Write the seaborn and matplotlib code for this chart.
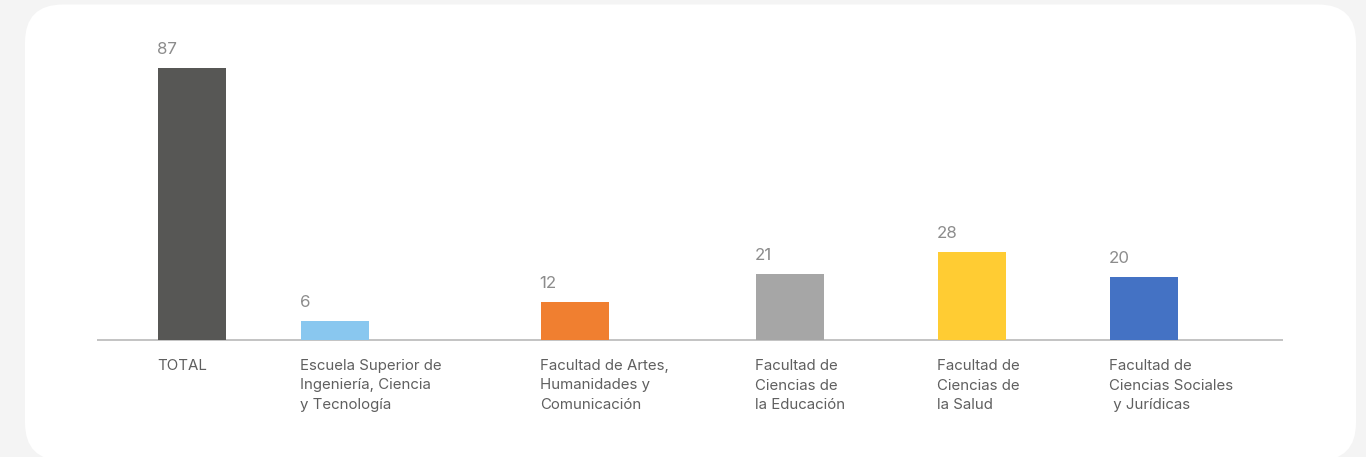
import numpy as np
import pandas as pd
import matplotlib
matplotlib.use("Agg")
import matplotlib.pyplot as plt
from matplotlib.patches import FancyBboxPatch
import seaborn as sns

# ---- data ----
categories = [
    "TOTAL",
    "Escuela Superior de\nIngeniería, Ciencia\ny Tecnología",
    "Facultad de Artes,\nHumanidades y\nComunicación",
    "Facultad de\nCiencias de\nla Educación",
    "Facultad de\nCiencias de\nla Salud",
    "Facultad de\nCiencias Sociales\n y Jurídicas",
]
values = [87, 6, 12, 21, 28, 20]
colors = ["#575755", "#89c7ef", "#f07f30", "#a6a6a6", "#ffcc33", "#4472c4"]

# ---- layout (pixel-based positions of bar centres) ----
positions = [192, 334.7, 574.7, 790, 971.7, 1144]
BAR_W = 68
W, H = 1366, 457

sns.set_theme(style="white")
plt.rcParams["font.family"] = ["Inter", "DejaVu Sans"]

fig = plt.figure(figsize=(W / 100, H / 100), dpi=100)
fig.patch.set_facecolor("#f4f4f4")

# background card
bg = fig.add_axes([0, 0, 1, 1], zorder=0)
bg.set_xlim(0, W)
bg.set_ylim(H, 0)
bg.axis("off")
bg.add_patch(FancyBboxPatch((25, 4.5), 1331, 456, boxstyle="round,pad=0,rounding_size=38",
                            facecolor="white", edgecolor="none"))

ax = fig.add_axes([0, 0, 1, 1], zorder=1)
ax.patch.set_alpha(0)

df = pd.DataFrame({"pos": positions, "value": values, "cat": categories})
width = BAR_W / np.min(np.diff(positions))
sns.barplot(data=df, x="pos", y="value", hue="cat", palette=colors, hue_order=categories,
            native_scale=True, width=width, legend=False, ax=ax, saturation=1,
            dodge=False, linewidth=0, edgecolor="none")

# scale: baseline at y=340 px from top, 87 at 68 px
px_per_unit = (340 - 68) / 87
base_from_bottom = H - 340
ax.set_ylim(-base_from_bottom / px_per_unit, (H - base_from_bottom) / px_per_unit)
ax.set_xlim(0, W)
ax.axis("off")

ax.plot([97, 1283], [0, 0], color="#b3b3b3", lw=1.1, zorder=0, solid_capstyle="butt")

for p, v, c in zip(positions, values, categories):
    left = p - BAR_W / 2
    ax.annotate(str(v), xy=(left, v), xytext=(-1, 14), textcoords="offset pixels",
                ha="left", va="baseline", fontsize=12.2, color="#8c8c8c")
    ax.annotate(c, xy=(left, 0), xytext=(-1, -19), textcoords="offset pixels",
                ha="left", va="top", fontsize=10.8, color="#5f5f5f", linespacing=1.5)

fig.savefig("out.png", dpi=100, facecolor=fig.get_facecolor())
